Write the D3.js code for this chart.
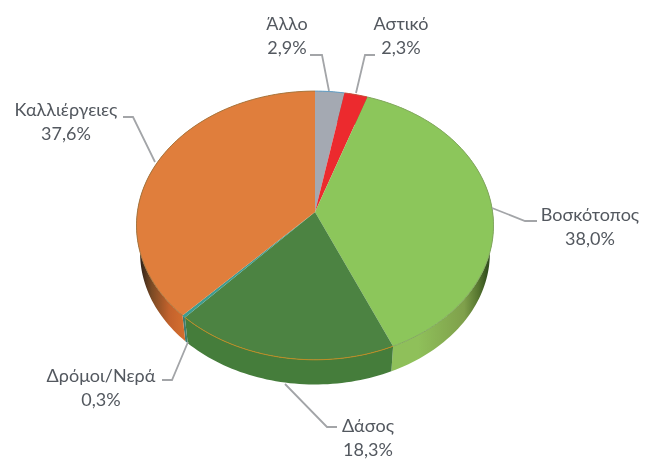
<!DOCTYPE html>
<html>
<head>
<meta charset="utf-8">
<script src="https://cdn.jsdelivr.net/npm/d3@7"></script>
<style>
html, body { margin: 0; padding: 0; background: #fff; }
svg { display: block; filter: blur(0.5px); }
text { font-family: Lato, "Open Sans", "Noto Sans", sans-serif; font-size: 18px; fill: #53585f; }
</style>
</head>
<body>
<div id="graph"></div>
<script>
// values, clockwise from 12 o'clock
var categories = ["Άλλο", "Αστικό", "Βοσκότοπος", "Δάσος", "Δρόμοι/Νερά", "Καλλιέργειες"];
var shares = [2.9, 2.3, 38.0, 18.3, 0.3, 37.6];

var topColors = ["#a4a9b2", "#ec2a2e", "#8cc65b", "#4c8342", "#3f9c90", "#e07e3c"];
var edgeColors = ["#5f9fc8", "#c8503a", "#83a860", "#c08a20", "#3f9c90", "#a8773f"];
var wallStops = [
	[[0, "#777"], [1, "#777"]],
	[[0, "#a22"], [1, "#a22"]],
	[[0.79, "#8fc05a"], [0.92, "#7fa04b"], [0.96, "#56752f"], [0.985, "#33501f"]],
	[[0, "#457d3b"], [1, "#457d3b"]],
	[[0, "#3f7c70"], [1, "#3f7c70"]],
	[[0.01, "#33241a"], [0.04, "#7a4a24"], [0.09, "#c3622c"], [0.14, "#d8702f"]]
];

// label block position and leader line for each slice
var labelLayout = [
	{x: 287, y: 30, line: [[310, 55], [322, 55], [329, 91]]},
	{x: 401, y: 30, line: [[375, 55], [365, 55], [356, 93]]},
	{x: 590, y: 221, line: [[537, 221], [525, 221], [492, 208]]},
	{x: 368, y: 432, line: [[337, 427], [327, 427], [285, 384]]},
	{x: 101, y: 382, line: [[162, 380], [172, 380], [188, 342]]},
	{x: 66, y: 116, line: [[123, 117], [133, 117], [155, 162]]}
];

var width = 646, height = 459;

// tilted disc: apex at (315, 212), the near side is drawn larger
var cx = 315, cy = 212, radiusX = 177.6, radiusY = 133, tilt = 0.1;
var rimRadius = 0.98, rimDrop = 28;

var xScale = d3.scaleLinear().domain([-1, 1]).range([cx - radiusX, cx + radiusX]);
var yScale = d3.scaleLinear().domain([-1, 1]).range([cy - radiusY, cy + radiusY]);

function project(a, r, drop) {
	var u = r * Math.sin(a), v = -r * Math.cos(a);
	var k = 1 - tilt * v;
	return [xScale(u / k), yScale(v / k) + drop];
}

function arcPoints(d, r, drop) {
	var n = Math.max(2, Math.ceil((d.endAngle - d.startAngle) * 40));
	return d3.range(n + 1).map(function(i) {
		return project(d.startAngle + (d.endAngle - d.startAngle) * i / n, r, drop);
	});
}

var svg = d3.select("#graph").append("svg")
	.attr("width", width)
	.attr("height", height);

var pie = d3.pie().sort(null).value(function(d) { return d; });
var slices = pie(shares);
var line = d3.line();

// gradients for the side wall, shared x range over the whole disc
var defs = svg.append("defs");
wallStops.forEach(function(stops, i) {
	var g = defs.append("linearGradient")
		.attr("id", "wall" + i)
		.attr("gradientUnits", "userSpaceOnUse")
		.attr("x1", cx - radiusX).attr("x2", cx + radiusX)
		.attr("y1", 0).attr("y2", 0);
	stops.forEach(function(s) {
		g.append("stop").attr("offset", s[0]).attr("stop-color", s[1]);
	});
});

// side wall first, the top face covers the far half
svg.append("g").selectAll("path").data(slices).enter().append("path")
	.attr("d", function(d) {
		return line(arcPoints(d, 1, 0).concat(arcPoints(d, rimRadius, rimDrop).reverse())) + "Z";
	})
	.attr("fill", function(d, i) { return "url(#wall" + i + ")"; });

svg.append("g").selectAll("path").data(slices).enter().append("path")
	.attr("d", function(d) {
		return line([project(0, 0, 0)].concat(arcPoints(d, 1, 0))) + "Z";
	})
	.attr("fill", function(d, i) { return topColors[i]; });

// thin coloured rim along the top face only
svg.append("g").selectAll("path").data(slices).enter().append("path")
	.attr("d", function(d) { return line(arcPoints(d, 1, 0)); })
	.attr("fill", "none")
	.attr("stroke", function(d, i) { return edgeColors[i]; })
	.attr("stroke-width", 1);

// leader lines
svg.append("g").selectAll("path").data(labelLayout).enter().append("path")
	.attr("d", function(d) { return line(d.line); })
	.attr("fill", "none")
	.attr("stroke", "#a3a5a8")
	.attr("stroke-width", 1.8);

var fmt = d3.format(".1f");
var labels = svg.append("g").selectAll("text").data(labelLayout).enter().append("text")
	.attr("text-anchor", "middle")
	.attr("x", function(d) { return d.x; })
	.attr("y", function(d) { return d.y; });
labels.append("tspan")
	.attr("x", function(d) { return d.x; })
	.text(function(d, i) { return categories[i]; });
labels.append("tspan")
	.attr("x", function(d) { return d.x; })
	.attr("dy", 24)
	.text(function(d, i) { return fmt(shares[i]).replace(".", ",") + "%"; });
</script>
</body>
</html>
